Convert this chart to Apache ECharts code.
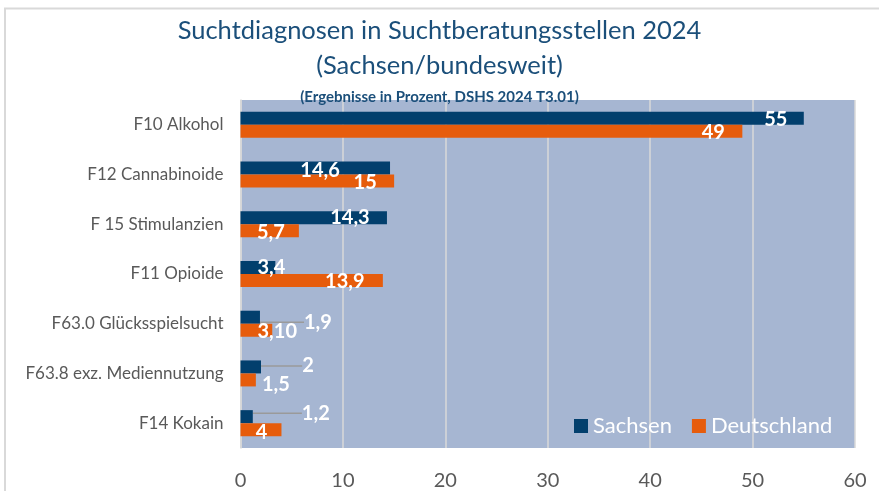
<!DOCTYPE html>
<html>
<head>
<meta charset="utf-8">
<script src="https://cdn.jsdelivr.net/npm/echarts@6/dist/echarts.min.js"></script>
<style>
  html, body { margin: 0; padding: 0; background: #fff; }
  #chart { width: 879px; height: 491px; }
</style>
</head>
<body>
<div id="chart"></div>
<script>
// Kategorien (von oben nach unten)
const categories = [
  'F10 Alkohol',
  'F12 Cannabinoide',
  'F 15 Stimulanzien',
  'F11 Opioide',
  'F63.0 Glücksspielsucht',
  'F63.8 exz. Mediennutzung',
  'F14 Kokain'
]
const sachsen = [55, 14.6, 14.3, 3.4, 1.9, 2, 1.2]
const deutschland = [49, 15, 5.7, 13.9, 3.1, 1.5, 4]
const sachsenLabels = ['55', '14,6', '14,3', '3,4', '1,9', '2', '1,2']
const deutschlandLabels = ['49', '15', '5,7', '13,9', '3,10', '1,5', '4']
const xTicks = [0, 10, 20, 30, 40, 50, 60]

// Lage der Beschriftungen: Mitte relativ zum Balkenende / Balkenmitte
const sachsenLabelOffset = [[-28, 1.5], [-70, 2.5], [-37, -0.5], [-4, 0], [58, 5], [47, -1], [63, -3.5]]
const deutschlandLabelOffset = [[-29, 1.5], [-29, 1.5], [-28, 1.5], [-38, 1.5], [5, 1.5], [20, 4.5], [-20, 3]]
const sachsenLeader = [false, false, false, false, true, true, true]

const chart = echarts.init(document.getElementById('chart'))
const FONT = 'Lato, "Open Sans", sans-serif'

const makeLayout = (offsets) => (params) => {
  const off = offsets[params.dataIndex]
  const r = params.rect
  const l = params.labelRect
  return {
    dx: (r.x + r.width + off[0]) - (l.x + l.width / 2),
    dy: (r.y + r.height / 2 + off[1]) - (l.y + l.height / 2)
  }
}

const barLabel = (texts) => ({
  show: true,
  position: 'insideRight',
  color: '#fff',
  fontFamily: FONT,
  fontWeight: 'bold',
  fontSize: 20,
  formatter: (p) => texts[p.dataIndex]
})

chart.setOption({
  backgroundColor: '#fff',
  animation: false,
  graphic: [{
    type: 'rect',
    shape: { x: 5, y: 8.5, width: 1000, height: 1000 },
    style: { fill: 'none', stroke: '#D9D9D9', lineWidth: 2 },
    silent: true
  }],
  title: [
    {
      text: 'Suchtdiagnosen in Suchtberatungsstellen 2024\n(Sachsen/bundesweit)',
      left: 'center',
      top: 8,
      textStyle: {
        color: '#1B4F7A',
        fontFamily: FONT,
        fontWeight: 'normal',
        fontSize: 25.5,
        lineHeight: 35
      }
    },
    {
      text: '(Ergebnisse in Prozent, DSHS 2024 T3.01)',
      left: 'center',
      top: 85,
      textStyle: {
        color: '#1B4F7A',
        fontFamily: FONT,
        fontWeight: 'bold',
        fontSize: 15
      }
    }
  ],
  legend: {
    left: 569,
    top: 410,
    icon: 'rect',
    itemWidth: 14,
    itemHeight: 14,
    itemGap: 20,
    textStyle: {
      color: '#fff',
      fontFamily: FONT,
      fontSize: 22
    },
    data: ['Sachsen', 'Deutschland']
  },
  grid: {
    left: 240.5,
    right: 24,
    top: 100,
    bottom: 43,
    show: true,
    backgroundColor: '#A6B6D2',
    borderWidth: 0,
    containLabel: false
  },
  xAxis: {
    type: 'value',
    min: xTicks[0],
    max: xTicks[xTicks.length - 1],
    interval: 10,
    axisLine: { show: false },
    axisTick: { show: false },
    axisLabel: {
      color: '#595959',
      fontFamily: FONT,
      fontSize: 20,
      margin: 23
    },
    splitLine: {
      show: true,
      lineStyle: { color: '#D9D9D9', width: 1.5 }
    }
  },
  yAxis: {
    type: 'category',
    data: categories,
    inverse: true,
    axisLine: { show: true, lineStyle: { color: '#D9D9D9', width: 1.5 } },
    axisTick: { show: false },
    axisLabel: {
      color: '#595959',
      fontFamily: FONT,
      fontSize: 17,
      margin: 17
    }
  },
  series: [
    {
      name: 'Sachsen',
      type: 'bar',
      barWidth: 13,
      barGap: '0%',
      itemStyle: { color: '#023F6D' },
      data: sachsen.map((v, i) => ({
        value: v,
        labelLine: { show: sachsenLeader[i] }
      })),
      label: barLabel(sachsenLabels),
      labelLayout: makeLayout(sachsenLabelOffset),
      labelLine: {
        show: false,
        smooth: 0.2,
        lineStyle: { color: '#9A9A9A', width: 1.5 }
      }
    },
    {
      name: 'Deutschland',
      type: 'bar',
      barWidth: 13,
      barGap: '0%',
      itemStyle: { color: '#E65C0C' },
      data: deutschland,
      label: barLabel(deutschlandLabels),
      labelLayout: makeLayout(deutschlandLabelOffset)
    }
  ]
})
</script>
</body>
</html>
